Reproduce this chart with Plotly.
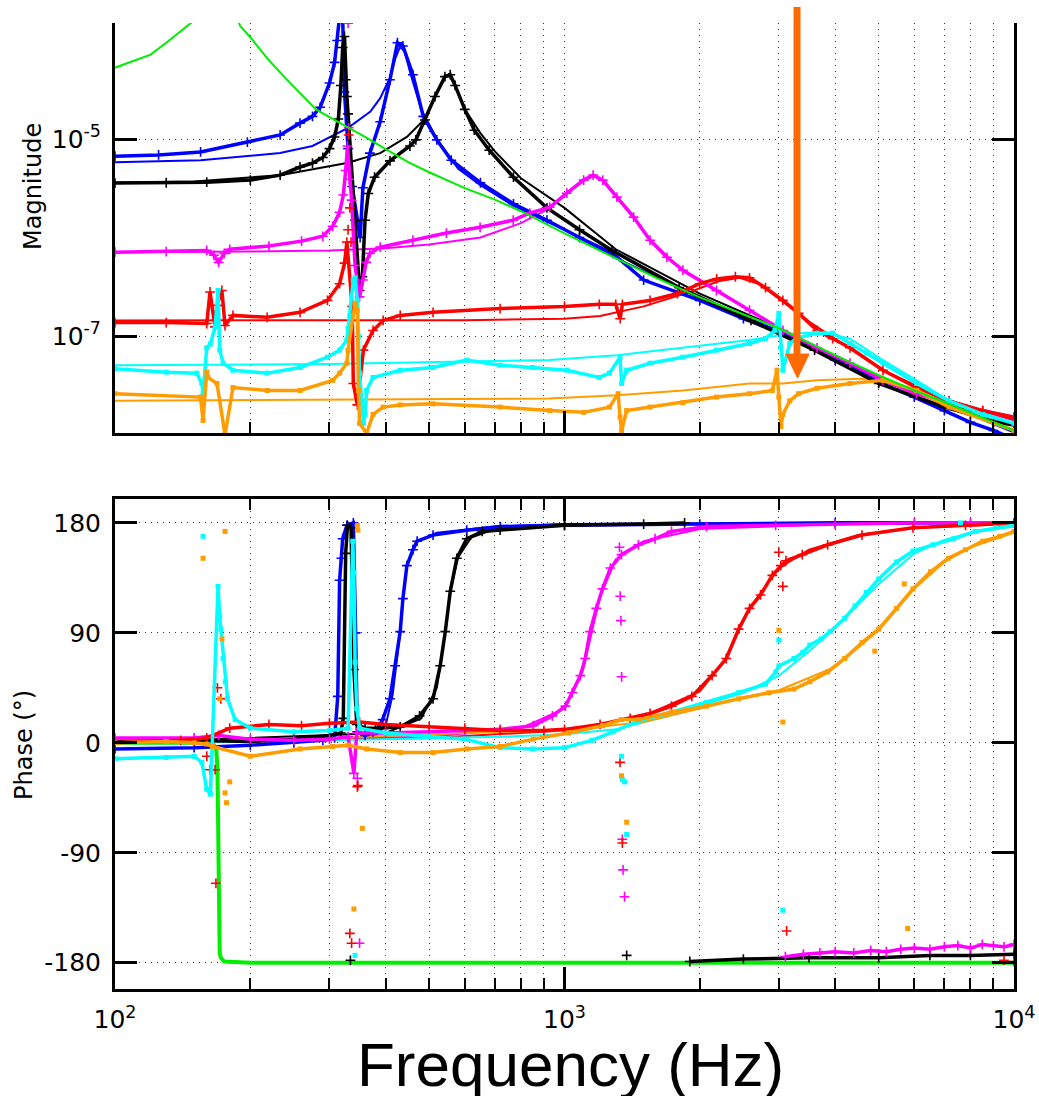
import plotly.graph_objects as go

# ---------------- tick labels ----------------
x_tickvals = [100, 1000, 10000]
x_ticktext = ["10<sup>2</sup>", "10<sup>3</sup>", "10<sup>4</sup>"]
x_minor = [200, 300, 400, 500, 600, 700, 800, 900, 2000, 3000, 4000, 5000, 6000, 7000, 8000, 9000]
mag_tickvals = [1e-7, 1e-5]
mag_ticktext = ["10<sup>-7</sup>", "10<sup>-5</sup>"]
ph_tickvals = [-180, -90, 0, 90, 180]
ph_ticktext = ["-180", "-90", "0", "90", "180"]

# ---------------- magnitude: measured ----------------
blue_f = [100, 125, 155, 197, 233, 258, 275, 286, 300, 308, 312, 316, 320, 324, 330, 337, 346, 351, 356, 369,
          389, 409, 425, 437, 460, 485, 520, 560, 650, 770, 914, 1080, 1280, 1500, 2000, 2500, 3000, 4000, 5000, 6000,
          7000, 8000, 9000, 10000]
blue_mag = [6.7e-6, 6.9e-6, 7.4e-6, 9.3e-6, 1.1e-5, 1.45e-5, 1.7e-5, 2.1e-5, 3.7e-5, 6.0e-5, 1.0e-4, 2.0e-4, 3.0e-4,
            3.0e-5, 8.0e-6, 3.3e-6, 1.4e-6, 1.0e-6, 3.2e-6, 7.2e-6, 1.5e-5, 4.0e-5, 9.5e-5, 8.8e-5, 4.5e-5, 1.7e-5,
            9.8e-6, 6.1e-6, 3.6e-6, 2.2e-6, 1.5e-6, 1.0e-6, 6.9e-7, 3.7e-7, 2.3e-7, 1.5e-7, 1.1e-7, 5.7e-8, 3.4e-8,
            2.4e-8, 1.75e-8, 1.33e-8, 1.1e-8, 9.0e-9]

black_f = [100, 130, 160, 200, 233, 258, 275, 290, 300, 308, 314, 318, 321, 324, 326, 328, 330, 335, 342, 350,
           355, 360, 366, 378, 409, 453, 467, 489, 515, 542, 557, 571, 600, 630, 680, 770, 914, 1080, 1276, 1800,
           2600, 3600, 5000, 7000, 8000, 9000, 10000]
black_mag = [3.57e-6, 3.6e-6, 3.65e-6, 3.83e-6, 4.3e-6, 5.2e-6, 5.7e-6, 6.5e-6, 8.0e-6, 1.05e-5, 1.6e-5, 3.5e-5,
             8.5e-5, 1.1e-4, 4.0e-5, 2.7e-5, 1.8e-5, 6.0e-6, 1.5e-6, 2.9e-7, 4.0e-7, 1.5e-6, 2.8e-6, 4.1e-6, 6.0e-6,
             8.5e-6, 9.8e-6, 1.56e-5, 2.7e-5, 4.3e-5, 4.5e-5, 3.5e-5, 2.0e-5, 1.23e-5, 7.7e-6, 4.1e-6, 2.0e-6,
             1.2e-6, 7.4e-7, 3.1e-7, 1.44e-7, 7.2e-8, 3.3e-8, 1.9e-8, 1.6e-8, 1.35e-8, 1.25e-8]

magenta_f = [100, 130, 160, 166, 170, 175, 180, 220, 260, 290, 305, 316, 322, 326, 329, 336, 342, 350, 356, 362,
             369, 389, 460, 546, 649, 769, 837, 927, 1012, 1103, 1158, 1216, 1308, 1425, 1550, 1690, 1834, 2178,
             2580, 3062, 3646, 4316, 5111, 6075, 7170, 8520, 10000]
magenta_mag = [7.1e-7, 7.2e-7, 7.4e-7, 6.6e-7, 5.6e-7, 6.9e-7, 7.6e-7, 8.2e-7, 9.2e-7, 1.03e-6, 1.3e-6, 1.8e-6,
               2.7e-6, 4.8e-6, 8.5e-6, 2.4e-6, 5.2e-7, 2.5e-7, 3.7e-7, 5.6e-7, 6.9e-7, 8.0e-7, 9.4e-7, 1.11e-6,
               1.27e-6, 1.5e-6, 1.77e-6, 2.03e-6, 2.82e-6, 3.83e-6, 4.3e-6, 3.83e-6, 2.57e-6, 1.61e-6, 9.4e-7,
               6.3e-7, 4.66e-7, 2.9e-7, 1.83e-7, 1.14e-7, 7.6e-8, 5.3e-8, 3.55e-8, 2.6e-8, 2.07e-8, 1.75e-8, 1.5e-8]

red_f = [100, 130, 160, 162.7, 166.9, 168.6, 172.9, 175.7, 183, 218, 258, 297, 316, 324, 328, 337, 339,
         346, 357, 375, 395, 431, 510, 719, 1000, 1195, 1300, 1330, 1345, 1550, 1784, 2000, 2180, 2400, 2580, 2800,
         3060, 3320, 3650, 3950, 4316, 5111, 6075, 7170, 8520, 10000]
red_mag = [1.37e-7, 1.37e-7, 1.34e-7, 2.8e-7, 1.24e-7, 2.05e-7, 2.9e-7, 1.28e-7, 1.62e-7, 1.55e-7, 1.74e-7, 2.3e-7,
           3.4e-7, 5.5e-7, 9.0e-7, 2.0e-7, 3.3e-8, 2.0e-8, 7.2e-8, 1.14e-7, 1.44e-7, 1.62e-7,
           1.74e-7, 1.9e-7, 2.0e-7, 2.1e-7, 2.1e-7, 1.5e-7, 2.1e-7, 2.3e-7, 2.7e-7, 3.4e-7, 3.8e-7, 4.0e-7, 3.9e-7,
           3.1e-7, 2.3e-7, 1.7e-7, 1.14e-7, 9.4e-8, 7.6e-8, 4.5e-8, 3.0e-8, 2.2e-8, 1.75e-8, 1.5e-8]

cyan_f = [100, 130, 152, 156, 157, 160, 163, 167, 169.5, 171, 174, 183, 218, 258, 297, 316, 328, 330, 333, 339,
          342, 346, 348, 350, 354, 357, 360, 363, 375, 431, 510, 606, 719, 850, 1012, 1195, 1259, 1329, 1340, 1375,
          1550, 1834, 2178, 2580, 2800, 2940, 2998, 3028, 3060, 3170, 3290, 3646, 3950, 4316, 4700, 5111, 6075,
          7170, 8520, 10000]
cyan_mag = [4.65e-8, 4.3e-8, 4.2e-8, 3.3e-8, 2.6e-8, 7.6e-8, 8.3e-8, 1.24e-7, 2.9e-7, 7.2e-8, 5.3e-8, 4.5e-8,
            4.2e-8, 4.8e-8, 6.1e-8, 7.2e-8, 9.1e-8, 1.2e-7, 1.6e-7, 3.7e-7, 3.9e-7, 2.3e-7, 1.0e-7, 4.2e-8, 2.2e-8,
            1.3e-8, 1.6e-8, 2.8e-8, 3.8e-8, 4.5e-8, 4.8e-8, 5.7e-8, 5.05e-8, 4.8e-8, 4.5e-8, 3.8e-8, 4.2e-8,
            6.1e-8, 3.3e-8, 4.5e-8, 5.3e-8, 6.1e-8, 7.2e-8, 8.4e-8, 9.4e-8, 1.14e-7, 1.7e-7, 7.6e-8, 4.5e-8, 8.4e-8,
            9.6e-8, 1.07e-7, 1.07e-7, 8.4e-8, 6.7e-8, 5.3e-8, 3.3e-8, 2.2e-8, 1.6e-8, 1.3e-8]

orange_f = [100, 155, 157, 160, 161, 168.6, 175.7, 183, 218, 258, 305, 316, 328, 330, 342, 346, 348, 350, 363, 375,
            395, 431, 510, 719, 927, 1103, 1259, 1316, 1329, 1340, 1375, 1550, 1834, 2178, 2580, 2900, 2970, 2998,
            3030, 3060, 3170, 3318, 3646, 4316, 5111, 6075, 7170, 10000]
orange_mag = [2.6e-8, 2.4e-8, 1.39e-8, 4.3e-8, 3.8e-8, 3.3e-8, 1.0e-8, 3.0e-8, 2.8e-8, 2.8e-8, 3.55e-8, 4.2e-8,
              5.3e-8, 7.2e-8, 2.15e-7, 1.83e-7, 2.8e-8, 1.3e-8, 1.03e-8, 1.6e-8, 1.9e-8, 2.0e-8, 2.05e-8, 1.9e-8,
              1.75e-8, 1.68e-8, 1.9e-8, 2.6e-8, 1.5e-8, 1.1e-8, 1.75e-8, 1.9e-8, 2.1e-8, 2.4e-8, 2.6e-8, 2.8e-8,
              4.5e-8, 2.4e-8, 1.2e-8, 1.6e-8, 2.2e-8, 2.6e-8, 2.95e-8, 3.3e-8, 3.55e-8, 2.8e-8, 1.9e-8, 1.1e-8]

# scattered (spurious) magnitude points
magenta_mag_out_f = [330, 331, 332]
magenta_mag_out = [1.5e-4, 1.3e-5, 3.9e-6]
red_mag_out_f = [330, 331, 333, 335]
red_mag_out = [1.2e-6, 1.1e-5, 2.0e-6, 9.0e-7]

# ---------------- magnitude: model lines ----------------
blue_model_f = [100, 155, 233, 275, 330, 370, 389, 409, 420, 430, 440, 455, 480, 520, 580, 650, 770, 1000, 1300,
                2000, 3000, 5000, 10000]
blue_model_mag = [5.8e-6, 6.1e-6, 7.2e-6, 8.5e-6, 1.3e-5, 1.9e-5, 2.6e-5, 4.2e-5, 6.5e-5, 8.5e-5, 8.0e-5, 4.5e-5,
                  2.0e-5, 1.0e-5, 5.0e-6, 3.4e-6, 2.1e-6, 1.2e-6, 6.2e-7, 2.45e-7, 1.13e-7, 3.8e-8, 1.05e-8]
black_model_f = [100, 150, 233, 328, 389, 446, 489, 515, 540, 555, 570, 600, 650, 700, 800, 1000, 1300, 2000, 3000,
                 5000, 10000]
black_model_mag = [3.6e-6, 3.7e-6, 4.3e-6, 5.7e-6, 7.2e-6, 1.05e-5, 1.6e-5, 2.7e-5, 4.2e-5, 4.6e-5, 3.6e-5, 2.0e-5,
                   1.15e-5, 7.5e-6, 4.0e-6, 2.0e-6, 7.6e-7, 2.7e-7, 1.2e-7, 3.6e-8, 1.25e-8]
magenta_model_f = [100, 200, 300, 400, 500, 650, 800, 930, 1030, 1100, 1160, 1220, 1310, 1430, 1550, 1830, 2200,
                   3000, 4300, 6000, 10000]
magenta_model_mag = [7.1e-7, 7.2e-7, 7.4e-7, 7.8e-7, 8.5e-7, 1.0e-6, 1.4e-6, 2.0e-6, 3.0e-6, 3.8e-6, 4.2e-6,
                     3.8e-6, 2.6e-6, 1.6e-6, 9.5e-7, 4.6e-7, 2.8e-7, 1.2e-7, 5.3e-8, 2.6e-8, 1.4e-8]
red_model_f = [100, 300, 600, 1000, 1200, 1500, 1900, 2200, 2450, 2700, 3000, 3500, 4300, 5100, 7200, 10000]
red_model_mag = [1.44e-7, 1.44e-7, 1.45e-7, 1.5e-7, 1.6e-7, 2.0e-7, 2.8e-7, 3.6e-7, 3.9e-7, 3.4e-7, 2.4e-7,
                 1.4e-7, 7.6e-8, 4.5e-8, 2.2e-8, 1.4e-8]
cyan_model_f = [100, 300, 600, 927, 1308, 1834, 2580, 3062, 3318, 3750, 4316, 5111, 6075, 7170, 10000]
cyan_model_mag = [5.05e-8, 5.2e-8, 5.5e-8, 5.7e-8, 6.4e-8, 7.6e-8, 9.1e-8, 1.03e-7, 1.07e-7, 1.1e-7, 9.4e-8,
                  5.7e-8, 3.55e-8, 2.2e-8, 1.3e-8]
orange_model_f = [100, 927, 1308, 1834, 2580, 3062, 3646, 4700, 5111, 6075, 7170, 10000]
orange_model_mag = [2.2e-8, 2.32e-8, 2.5e-8, 2.8e-8, 3.3e-8, 3.3e-8, 3.55e-8, 3.7e-8, 3.55e-8, 2.8e-8, 1.9e-8, 1.1e-8]
green_model_f = [100, 110, 120, 130, 140, 150, 160, 170, 180, 190, 200, 220, 240, 260, 280, 300, 330, 360, 400, 450,
                 500, 600, 700, 800, 1000, 1300, 1600, 2000, 2500, 3000, 4000, 5000, 6000, 7000, 8000, 10000]
green_model_mag = [5.3e-5, 6.2e-5, 7.2e-5, 9.5e-5, 1.26e-4, 1.6e-4, 3.0e-4, 2.0e-3, 2.6e-4, 1.4e-4, 1.08e-4,
                   6.3e-5, 4.1e-5, 2.8e-5, 2.0e-5, 1.67e-5, 1.32e-5, 1.05e-5, 7.9e-6, 5.8e-6, 4.6e-6, 3.17e-6,
                   2.43e-6, 1.85e-6, 1.1e-6, 6.2e-7, 3.9e-7, 2.47e-7, 1.66e-7, 1.2e-7, 6.4e-8, 4.0e-8, 2.8e-8,
                   2.14e-8, 1.66e-8, 1.1e-8]

# ---------------- phase: measured ----------------
blue_ph_f = [100, 150, 200, 250, 290, 308, 313, 316, 319, 321, 328, 339, 343, 346, 360, 375, 385, 394, 409, 420,
             431, 437, 446, 460, 470, 510, 606, 720, 1000, 2000, 4000, 10000]
blue_ph = [-5, -4, -2, 0, 2, 4, 38, 133, 151, 167, 178, 180, 90, 9, 6, 9, 12, 19, 36, 63, 91, 118, 145, 158, 165,
           170, 174, 177, 178, 179, 180, 180]
black_ph_f = [100, 150, 200, 250, 300, 318, 322, 326, 329, 335, 340, 345, 360, 380, 431, 476, 510, 529, 543, 557,
              576, 606, 656, 719, 1000, 1500, 1850, 1870, 1900, 2500, 3500, 5000, 6500, 8000, 10000]
black_ph = [1, 2, 1, 3, 6, 8, 20, 155, 178, 176, 60, 15, 12, 12, 13, 22, 36, 63, 91, 124, 151, 167, 173, 174, 178,
            179, 180, None, -179, -177, -176, -176, -174, -174, -173]
magenta_ph_f = [100, 150, 170, 200, 250, 300, 330, 340, 345, 400, 500, 600, 719, 852, 940, 1005, 1040, 1085, 1112,
                1140, 1177, 1215, 1265, 1339, 1460, 1590, 1730, 2070, 2950, 4000, 6000, 8000, 10000]
magenta_ph = [4, 4, 6, 3, 2, 3, 5, -25, 8, 8, 9, 10, 11, 14, 22, 30, 41, 55, 69, 91, 110, 126, 143, 154, 162, 167,
              173, 177, 178, 179, 180, 180, 180]
magenta_wrap_f = [3100, 3400, 3700, 4000, 4400, 4800, 5200, 5600, 6000, 6500, 7000, 7500, 8000, 8500, 9000, 9500,
                  10000]
magenta_wrap_ph = [-175, -173, -172, -171, -172, -170, -171, -169, -168, -169, -167, -166, -168, -165, -166, -167,
                   -165]
red_ph_f = [100, 140, 160, 180, 220, 260, 300, 350, 400, 500, 600, 719, 900, 1000, 1200, 1400, 1550, 1730, 1920,
            2130, 2290, 2440, 2580, 2730, 2900, 3110, 3380, 3850, 4590, 5960, 7800, 10000]
red_ph = [0, 2, 4, 12, 15, 14, 16, 17, 15, 13, 12, 10, 10, 11, 15, 20, 24, 30, 38, 55, 69, 93, 110, 121, 137, 149,
          154, 162, 170, 176, 178, 180]
cyan_ph_f = [100, 130, 150, 156, 160, 163, 169.5, 171, 172, 174, 176, 178, 185, 200, 250, 300, 330, 338, 340, 342,
             345, 350, 400, 500, 600, 719, 850, 1000, 1150, 1282, 1460, 1730, 2070, 2440, 2800, 2950, 3000, 3240,
             3390, 3515, 3720, 3900, 4200, 4430, 4690, 5000, 5480, 5960, 6600, 7340, 8200, 9100, 10000]
cyan_ph = [-13, -12, -11, -16, -38, -42, 128, 103, 93, 69, 50, 36, 19, 12, 9, 10, 12, 165, 139, 66, 28, 12, 8, 5, 3,
           -4, -5, -4, 2, 9, 18, 25, 33, 41, 48, 58, 63, 69, 74, 80, 85, 91, 102, 112, 123, 134, 148, 157, 162, 167,
           173, 176, 178]
orange_ph_f = [100, 130, 150, 160, 165, 200, 258, 305, 330, 363, 431, 510, 606, 719, 852, 1020, 1215, 1339, 1460,
               1730, 2070, 2440, 2850, 3240, 3515, 3850, 4200, 4590, 5000, 5480, 5960, 6520, 7140, 7800, 8520, 9300,
               10000]
orange_ph = [0, 1, 0, -1, -3, -11, -5, -3, -2, -5, -8, -8, -5, -3, 3, 8, 14, 19, 19, 25, 30, 36, 41, 44, 50, 58, 69,
             82, 93, 110, 126, 140, 151, 158, 165, 169, 173]

# scattered (spurious) phase points
black_out_f = [334, 1375]
black_out_ph = [-178, -174]
magenta_out_f = [346, 350, 1325, 1330, 1335, 1340, 1345, 1350, 1360]
magenta_out_ph = [-29, -164, 160, 120, 100, 54, -79, -104, -126]
red_out_f = [160, 162.7, 167, 167.7, 169, 172, 333, 336, 346, 347, 1329, 1345, 2998, 3028, 3060, 3120, 9500, 10000]
red_out_ph = [-11, -22, -22, -115, 45, 36, -156, -164, -36, -35, -16, -82, 156, 145, 128, -154, -178, -179]
cyan_out_f = [157, 342, 1339, 1345, 1360, 1375, 2998, 3060, 7600]
cyan_out_ph = [169, -174, -11, -30, -32, -75, 84, -137, 180]
orange_out_f = [157, 171, 173, 175.7, 175.7, 177, 180, 340, 346, 347, 355, 1339, 1375, 2998, 3060, 4900, 5700, 5800]
orange_out_ph = [151, 36, 85, 173, -41, -49, -32, -136, 178, 174, -70, -27, -65, 92, 17, 75, 130, -152]

# ---------------- phase: model lines ----------------
blue_model_ph_f = [100, 300, 380, 400, 415, 425, 431, 437, 446, 470, 520, 700, 1000, 10000]
blue_model_ph = [0, 2, 6, 14, 40, 70, 91, 118, 145, 165, 172, 177, 179, 180]
black_model_ph_f = [100, 400, 480, 520, 543, 557, 580, 620, 700, 1000, 10000]
black_model_ph = [0, 8, 20, 45, 91, 124, 152, 168, 175, 179, 180]
magenta_model_ph_f = [100, 500, 800, 1000, 1100, 1150, 1200, 1300, 1500, 2000, 4000, 10000]
magenta_model_ph = [0, 5, 12, 28, 60, 91, 120, 150, 165, 175, 179, 180]
red_model_ph_f = [100, 500, 1000, 1500, 2000, 2300, 2450, 2600, 3000, 3500, 4500, 6000, 10000]
red_model_ph = [0, 4, 10, 22, 42, 70, 93, 112, 143, 158, 170, 176, 179]
cyan_model_ph_f = [100, 300, 720, 1000, 1300, 1700, 2000, 2500, 3000, 3500, 4000, 5000, 6000, 7000, 8000, 10000]
cyan_model_ph = [0, 2, 5, 7, 11, 22, 30, 41, 55, 75, 94, 130, 155, 166, 172, 177]
orange_model_ph_f = [100, 200, 300, 500, 719, 1000, 1500, 2000, 2500, 3000, 4000, 5000, 6000, 7000, 8000, 10000]
orange_model_ph = [0, 2, 4, 7, 9, 10, 17, 28, 37, 43, 62, 92, 126, 148, 160, 172]
green_ph_f = [100, 160, 166, 168, 169, 170, 171, 172, 175, 200, 500, 1000, 2000, 5000, 10000]
green_ph = [0, 0, -2, -6, -20, -120, -172, -176, -179, -180, -180, -180, -180, -180, -180]

# ---------------- styling ----------------
BLUE, BLACK, MAGENTA, RED, CYAN, ORANGE, GREEN = ("#0000FF", "#000000", "#FF00FF", "#FF0000",
                                                  "#00FFFF", "#FF9C00", "#00EE00")
TICKFONT = "DejaVu Sans, Verdana, sans-serif"
TITLEFONT = "Liberation Sans, Arial, sans-serif"

series = [
    (BLUE, "cross-thin", blue_f, blue_mag, blue_model_f, blue_model_mag, blue_ph_f, blue_ph,
     blue_model_ph_f, blue_model_ph, [], [], [], []),
    (BLACK, "cross-thin", black_f, black_mag, black_model_f, black_model_mag, black_ph_f, black_ph,
     black_model_ph_f, black_model_ph, black_out_f, black_out_ph, [], []),
    (MAGENTA, "cross-thin", magenta_f, magenta_mag, magenta_model_f, magenta_model_mag, magenta_ph_f, magenta_ph,
     magenta_model_ph_f, magenta_model_ph, magenta_out_f, magenta_out_ph, magenta_mag_out_f, magenta_mag_out),
    (RED, "cross-thin", red_f, red_mag, red_model_f, red_model_mag, red_ph_f, red_ph,
     red_model_ph_f, red_model_ph, red_out_f, red_out_ph, red_mag_out_f, red_mag_out),
    (CYAN, "square", cyan_f, cyan_mag, cyan_model_f, cyan_model_mag, cyan_ph_f, cyan_ph,
     cyan_model_ph_f, cyan_model_ph, cyan_out_f, cyan_out_ph, [], []),
    (ORANGE, "square", orange_f, orange_mag, orange_model_f, orange_model_mag, orange_ph_f, orange_ph,
     orange_model_ph_f, orange_model_ph, orange_out_f, orange_out_ph, [], []),
]


def marker(color, symbol):
    if symbol == "square":
        return dict(symbol="square", size=5, color=color, line=dict(width=0))
    return dict(symbol="cross-thin", size=7, color=color, line=dict(color=color, width=1.6))


MEAS_W = 3.5
fig = go.Figure()

# phase: green model first (underneath)
fig.add_trace(go.Scatter(x=green_ph_f, y=green_ph, mode="lines", line=dict(color=GREEN, width=4),
                         xaxis="x2", yaxis="y2", hoverinfo="skip"))

# model lines (magnitude + phase), then measured on top
for (c, sym, mf, mm, modf, modm, pf, pv, mpf, mpv, of, ov, mof, mov) in series:
    fig.add_trace(go.Scatter(x=modf, y=modm, mode="lines", line=dict(color=c, width=2),
                             xaxis="x", yaxis="y", hoverinfo="skip"))
    fig.add_trace(go.Scatter(x=mpf, y=mpv, mode="lines", line=dict(color=c, width=2),
                             xaxis="x2", yaxis="y2", hoverinfo="skip"))

for (c, sym, mf, mm, modf, modm, pf, pv, mpf, mpv, of, ov, mof, mov) in series:
    fig.add_trace(go.Scatter(x=mf, y=mm, mode="lines+markers", line=dict(color=c, width=MEAS_W),
                             marker=marker(c, sym), xaxis="x", yaxis="y", hoverinfo="skip"))
    if mof:
        fig.add_trace(go.Scatter(x=mof, y=mov, mode="markers", marker=marker(c, sym),
                                 xaxis="x", yaxis="y", hoverinfo="skip"))
    fig.add_trace(go.Scatter(x=pf, y=pv, mode="lines+markers", line=dict(color=c, width=MEAS_W),
                             marker=marker(c, sym), xaxis="x2", yaxis="y2", hoverinfo="skip"))
    if of:
        fig.add_trace(go.Scatter(x=of, y=ov, mode="markers", marker=marker(c, sym),
                                 xaxis="x2", yaxis="y2", hoverinfo="skip"))
    if c == MAGENTA:
        fig.add_trace(go.Scatter(x=magenta_wrap_f, y=magenta_wrap_ph, mode="lines+markers",
                                 line=dict(color=c, width=MEAS_W), marker=marker(c, sym),
                                 xaxis="x2", yaxis="y2", hoverinfo="skip"))

# magnitude: green model on top
fig.add_trace(go.Scatter(x=green_model_f, y=green_model_mag, mode="lines", line=dict(color=GREEN, width=2),
                         xaxis="x", yaxis="y", hoverinfo="skip"))

grid = dict(showgrid=True, gridcolor="#333333", gridwidth=1.3, griddash="1.3px,4.7px")
minor = dict(tickvals=x_minor, ticks="inside", ticklen=11, tickwidth=2, tickcolor="black",
             showgrid=True, gridcolor="#333333", gridwidth=1.3, griddash="1.3px,4.7px")
axis_common = dict(showline=True, linewidth=3, linecolor="black", ticks="inside", ticklen=22, tickwidth=3,
                   tickcolor="black", zeroline=False, automargin=False)

fig.update_layout(
    width=1039, height=1096,
    margin=dict(l=115, r=25, t=23, b=107, autoexpand=False),
    paper_bgcolor="white", plot_bgcolor="white",
    showlegend=False,
    xaxis=dict(type="log", range=[2, 4], domain=[0, 1], anchor="y", tickvals=x_tickvals,
               showticklabels=False, mirror=False, minor=minor, **grid, **axis_common),
    yaxis=dict(type="log", range=[-7.984, -3.822], domain=[0.5756, 1], anchor="x",
               tickvals=mag_tickvals, ticktext=mag_ticktext, mirror="ticks", ticklabelstandoff=6,
               tickfont=dict(family=TICKFONT, size=25, color="black"), **grid, **axis_common),
    xaxis2=dict(type="log", range=[2, 4], domain=[0, 1], anchor="y2", tickvals=x_tickvals,
                ticktext=x_ticktext, mirror="ticks", minor=minor, ticklabelstandoff=6,
                tickfont=dict(family=TICKFONT, size=25, color="black"), **grid, **axis_common),
    yaxis2=dict(range=[-201.5, 199.5], domain=[0, 0.5072], anchor="x2", tickvals=ph_tickvals,
                ticktext=ph_ticktext, mirror="ticks", ticklabelstandoff=6,
                tickfont=dict(family=TICKFONT, size=25, color="black"), **grid, **axis_common),
)

W, H, L, T = 899.0, 966.0, 115.0, 23.0


def px_x(px):
    return (px - L) / W


def px_y(py):
    return (T + H - py) / H


fig.add_annotation(text="Magnitude", xref="paper", yref="paper", x=px_x(33), y=px_y(187), showarrow=False,
                   textangle=-90, xanchor="center", yanchor="middle",
                   font=dict(family=TICKFONT, size=24, color="black"))
fig.add_annotation(text="Phase (°)", xref="paper", yref="paper", x=px_x(24), y=px_y(745), showarrow=False,
                   textangle=-90, xanchor="center", yanchor="middle",
                   font=dict(family=TICKFONT, size=24, color="black"))
fig.add_annotation(text="Frequency (Hz)", xref="paper", yref="paper", x=px_x(570), y=px_y(1064),
                   showarrow=False, xanchor="center", yanchor="middle",
                   font=dict(family=TITLEFONT, size=62, color="black"))

# orange arrow
ARROW = "#FF6A00"
fig.add_shape(type="line", xref="paper", yref="paper", x0=px_x(797), x1=px_x(797), y0=px_y(7), y1=px_y(356),
              line=dict(color=ARROW, width=7))
fig.add_shape(type="path", xref="paper", yref="paper",
              path="M {:.4f},{:.4f} L {:.4f},{:.4f} L {:.4f},{:.4f} Z".format(
                  px_x(786), px_y(354), px_x(809), px_y(354), px_x(797.5), px_y(378)),
              fillcolor=ARROW, line=dict(color=ARROW, width=1))

fig.write_html("out.html", config={"displayModeBar": False},
               post_script="document.body.style.margin='0px';document.body.style.padding='0px';")
